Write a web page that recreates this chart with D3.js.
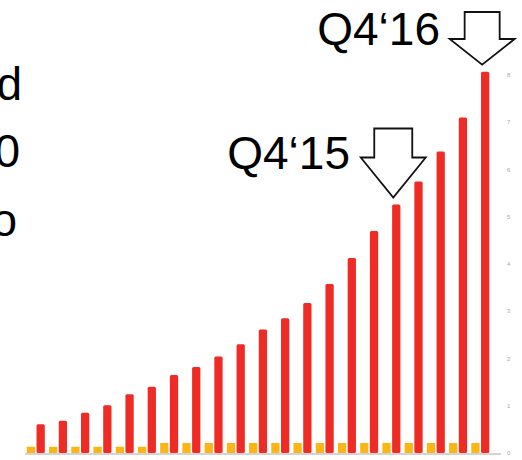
<!DOCTYPE html>
<html>
<head>
<meta charset="utf-8">
<script src="https://cdn.jsdelivr.net/npm/d3@7"></script>
<style>
  html, body { margin: 0; padding: 0; background: #fff; }
  svg { display: block; }
</style>
</head>
<body>
<script>
// Quarterly values, Q4'11 through Q4'16
const quarters = ["Q4'11","Q1'12","Q2'12","Q3'12","Q4'12","Q1'13","Q2'13","Q3'13","Q4'13",
                  "Q1'14","Q2'14","Q3'14","Q4'14","Q1'15","Q2'15","Q3'15","Q4'15",
                  "Q1'16","Q2'16","Q3'16","Q4'16"];
const seriesNames = ["minor", "main"];
const minorValues = [0.13,0.13,0.13,0.13,0.13,0.13,0.21,0.21,0.21,0.21,0.21,0.21,0.21,
                     0.21,0.21,0.21,0.21,0.21,0.21,0.21,0.21];
const mainValues = [0.61,0.68,0.85,1.01,1.24,1.40,1.65,1.82,2.04,2.30,2.61,2.85,3.17,
                    3.57,4.12,4.69,5.25,5.74,6.37,7.09,8.06];
const yTicks = [0,1,2,3,4,5,6,7,8];
const callouts = [
  { quarter: "Q4'15", label: "Q4\u201815" },
  { quarter: "Q4'16", label: "Q4\u201816" }
];
const sideLetters = ["d", "0", "o"];

const W = 522, H = 460;
const svg = d3.select("body").append("svg").attr("width", W).attr("height", H);

const x = d3.scaleBand().domain(quarters).range([24.7, 491.4]).padding(0);
const xSub = d3.scaleBand().domain(seriesNames).range([-9, 9]).paddingInner(0.15);
const y = d3.scaleLinear().domain([0, 8]).range([453, 74.5]);
const colors = { minor: "#fbb616", main: "#ee2b24" };

const rows = quarters.map((q, i) => ({ q, minor: minorValues[i], main: mainValues[i] }));

// Bars
const g = svg.append("g");
seriesNames.forEach(s => {
  g.selectAll("rect." + s).data(rows).join("rect")
    .attr("class", s)
    .attr("x", d => x(d.q) + x.bandwidth() / 2 + xSub(s))
    .attr("width", xSub.bandwidth())
    .attr("y", d => y(d[s]))
    .attr("height", d => y(0) - y(d[s]))
    .attr("rx", s === "main" ? 1.5 : 0.5)
    .attr("fill", colors[s]);
});

// Baseline
svg.append("line")
  .attr("x1", 25).attr("x2", 501)
  .attr("y1", y(0) + 1).attr("y2", y(0) + 1)
  .attr("stroke", "#c4c4c4").attr("stroke-width", 1.5);

// Right value axis
const yAxis = svg.append("g")
  .attr("transform", "translate(504,0)")
  .call(d3.axisRight(y).tickValues(yTicks).tickSize(0).tickPadding(3).tickFormat(d3.format("d")));
yAxis.select(".domain").remove();
yAxis.selectAll("text")
  .attr("font-family", "Liberation Sans, Arial, sans-serif")
  .attr("font-size", 6).attr("fill", "#a8a8b0");

// Callouts: label with a hollow down arrow pointing at the bar
const arrowSpecs = {
  "Q4'15": { top: 128.5, neck: 157.5, shaftHalf: 19, headHalf: 32.5, textX: 350, textY: 169 },
  "Q4'16": { top: 12, neck: 39, shaftHalf: 17.5, headHalf: 32.5, textX: 440, textY: 45 }
};
callouts.forEach(c => {
  const a = arrowSpecs[c.quarter];
  const cx = x(c.quarter) + x.bandwidth() / 2 + xSub("main") + xSub.bandwidth() / 2 - 3;
  const tip = y(mainValues[quarters.indexOf(c.quarter)]) - 7;
  const pts = [
    [cx - a.shaftHalf, a.top], [cx + a.shaftHalf, a.top], [cx + a.shaftHalf, a.neck],
    [cx + a.headHalf, a.neck], [cx, tip], [cx - a.headHalf, a.neck], [cx - a.shaftHalf, a.neck]
  ];
  svg.append("path")
    .attr("d", d3.line()(pts) + "Z")
    .attr("fill", "#fff").attr("stroke", "#111").attr("stroke-width", 1.8)
    .attr("stroke-linejoin", "miter");
  svg.append("text")
    .attr("x", a.textX).attr("y", a.textY)
    .attr("text-anchor", "end")
    .attr("font-family", "Liberation Sans, Arial, sans-serif")
    .attr("font-size", 46).attr("fill", "#000")
    .text(c.label);
});

// Text running in from the left edge
svg.append("g").selectAll("text").data(sideLetters).join("text")
  .attr("x", (d, i) => [22, 20, 17][i])
  .attr("y", (d, i) => [100, 167, 236][i])
  .attr("text-anchor", "end")
  .attr("font-family", "Liberation Sans, Arial, sans-serif")
  .attr("font-size", 46).attr("fill", "#000")
  .text(d => d);
</script>
</body>
</html>
